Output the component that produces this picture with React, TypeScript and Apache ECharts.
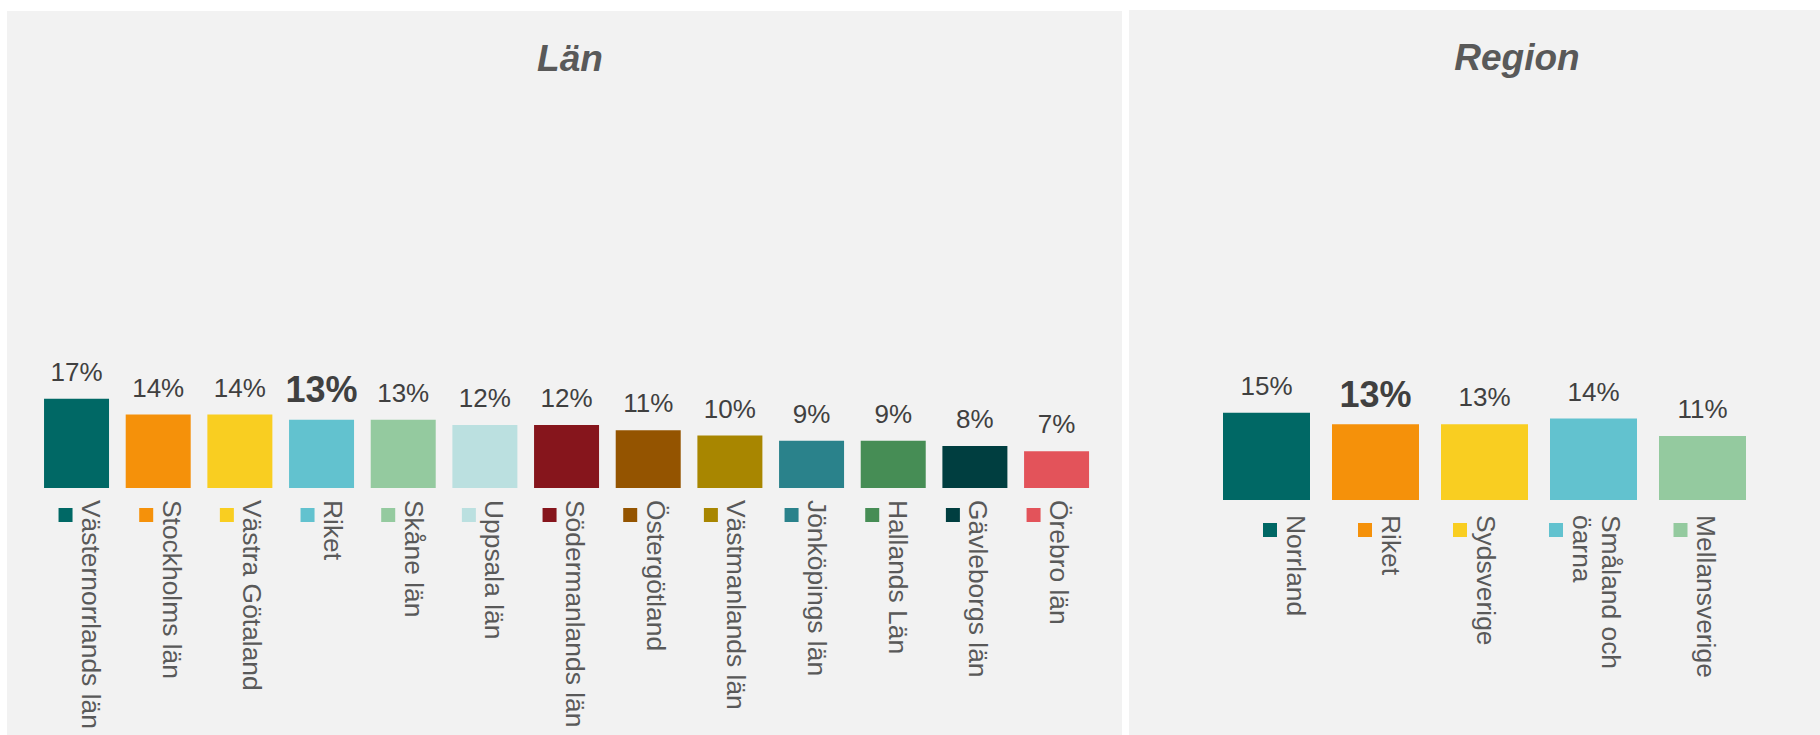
import React, { useEffect, useRef } from 'react';
import * as echarts from 'echarts';

const lanCategories = [
  'Västernorrlands län', 'Stockholms län', 'Västra Götaland', 'Riket', 'Skåne län',
  'Uppsala län', 'Södermanlands län', 'Östergötland', 'Västmanlands län',
  'Jönköpings län', 'Hallands Län', 'Gävleborgs län', 'Örebro län',
];
const lanValues = [17, 14, 14, 13, 13, 12, 12, 11, 10, 9, 9, 8, 7];
const lanColors = [
  '#006865', '#F5910A', '#F9CE21', '#62C2CF', '#94CA9F', '#BBE0E0', '#86151C',
  '#945400', '#A88600', '#2A828B', '#468D55', '#003E40', '#E3535A',
];
// label block shift (px, text frame) per category: positive = top padding
const lanLabelShift = [-7, -5, -3, -1, 1, 3, 5, 7, 9, 11, 13, 15, 17];

const regionCategories = ['Norrland', 'Riket', 'Sydsverige', 'Småland och\nöarna', 'Mellansverige'];
const regionValues = [15, 13, 13, 14, 11];
const regionColors = ['#006865', '#F5910A', '#F9CE21', '#62C2CF', '#94CA9F'];
const regionLabelShift = [-36, -8, 20, 17, 15];

const highlight = 'Riket';
const FONT = '"Liberation Sans", Arial, Helvetica, sans-serif';

function makeRich(colors: string[]) {
  const rich: any = {
    t: { fontSize: 26.4, fontFamily: FONT, color: '#595959', lineHeight: 29 },
    sp: { width: 8, height: 14, lineHeight: 22 },
  };
  colors.forEach((c, i) => {
    rich['q' + i] = { width: 14, height: 14, lineHeight: 22, backgroundColor: c };
  });
  return rich;
}

function labelFormatter(value: string, index: number) {
  const lines = String(value).split('\n').map((l) => `{t|${l}}`).join('\n');
  return `${lines}\n{sp|}{q${index}|}`;
}

function axisData(cats: string[], shifts: number[]) {
  return cats.map((c, i) => {
    const d = shifts[i];
    return { value: c, textStyle: { padding: d >= 0 ? [d, 0, 0, 0] : [0, 0, -d, 0] } };
  });
}

function makeSeriesData(cats: string[], vals: number[], colors: string[]) {
  return vals.map((v, i) => {
    const isH = cats[i] === highlight;
    return {
      value: v,
      itemStyle: { color: colors[i] },
      label: isH
        ? { fontSize: 36, fontWeight: 'bold', distance: 12 }
        : { fontSize: 26, fontWeight: 'normal', distance: 14 },
    };
  });
}

export default function App() {
  const ref = useRef<HTMLDivElement>(null);
  useEffect(() => {
    if (!ref.current) return;
    const chart = echarts.init(ref.current, undefined, { renderer: 'svg' });
    chart.setOption({
      animation: false,
      backgroundColor: '#ffffff',
      graphic: [
        { type: 'rect', z: -10, shape: { x: 7, y: 11, width: 1115, height: 724 }, style: { fill: '#f2f2f2' } },
        { type: 'rect', z: -10, shape: { x: 1129, y: 10, width: 691, height: 725 }, style: { fill: '#f2f2f2' } },
        {
          type: 'text', x: 570, y: 58, z: 10,
          style: { text: 'Län', fontSize: 37, fontWeight: 'bold', fontStyle: 'italic', fontFamily: FONT, fill: '#595959', align: 'center', verticalAlign: 'middle' },
        },
        {
          type: 'text', x: 1517, y: 57, z: 10,
          style: { text: 'Region', fontSize: 37, fontWeight: 'bold', fontStyle: 'italic', fontFamily: FONT, fill: '#595959', align: 'center', verticalAlign: 'middle' },
        },
      ],
      grid: [
        { left: 35.7, width: 1061.7, top: 488 - 5.25 * 60, height: 5.25 * 60 },
        { left: 1212, width: 545, top: 500 - 5.82 * 60, height: 5.82 * 60 },
      ],
      xAxis: [
        {
          type: 'category', gridIndex: 0, data: axisData(lanCategories, lanLabelShift),
          axisLine: { show: false }, axisTick: { show: false },
          axisLabel: {
            interval: 0, rotate: -90, margin: 12,
            formatter: labelFormatter, rich: makeRich(lanColors),
          },
        },
        {
          type: 'category', gridIndex: 1, data: axisData(regionCategories, regionLabelShift),
          axisLine: { show: false }, axisTick: { show: false },
          axisLabel: {
            interval: 0, rotate: -90, margin: 15,
            formatter: labelFormatter, rich: makeRich(regionColors),
          },
        },
      ],
      yAxis: [
        { type: 'value', gridIndex: 0, min: 0, max: 60, show: false, splitLine: { show: false } },
        { type: 'value', gridIndex: 1, min: 0, max: 60, show: false, splitLine: { show: false } },
      ],
      series: [
        {
          type: 'bar', xAxisIndex: 0, yAxisIndex: 0, barWidth: 65,
          data: makeSeriesData(lanCategories, lanValues, lanColors),
          label: { show: true, position: 'top', formatter: '{c}%', color: '#404040', fontFamily: FONT, fontSize: 26 },
        },
        {
          type: 'bar', xAxisIndex: 1, yAxisIndex: 1, barWidth: 87,
          data: makeSeriesData(regionCategories, regionValues, regionColors),
          label: { show: true, position: 'top', formatter: '{c}%', color: '#404040', fontFamily: FONT, fontSize: 26 },
        },
      ],
    });
    return () => chart.dispose();
  }, []);
  return (
    <div
      ref={ref}
      style={{ position: 'absolute', left: 0, top: 0, width: 1820, height: 735 }}
    />
  );
}
